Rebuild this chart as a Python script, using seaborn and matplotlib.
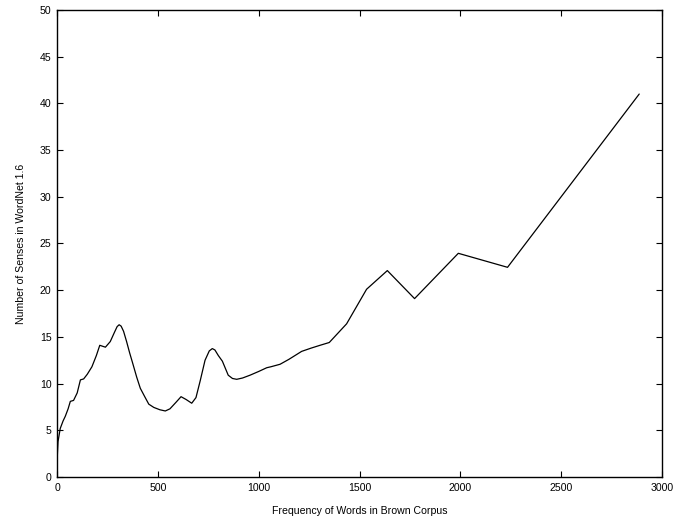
import matplotlib
matplotlib.use("Agg")
import matplotlib.pyplot as plt
import seaborn as sns
import pandas as pd

freq = [0, 2, 5, 16, 30, 41, 55, 66, 82, 100, 116, 132, 150, 173, 195, 212, 240, 264,
        285, 298, 308, 318, 330, 345, 360, 375, 395, 413, 435, 455, 480, 510, 537, 560,
        590, 615, 640, 668, 689, 710, 734, 755, 770, 783, 800, 820, 849, 870, 891, 920,
        957, 1000, 1040, 1060, 1106, 1150, 1213, 1260, 1304, 1350, 1436, 1535, 1638,
        1773, 1990, 2234, 2887]
senses = [0.8, 2.5, 3.8, 5.2, 6.0, 6.5, 7.3, 8.1, 8.2, 9.0, 10.4, 10.5, 11.0, 11.8,
          13.0, 14.1, 13.9, 14.5, 15.5, 16.1, 16.3, 16.15, 15.6, 14.5, 13.3, 12.2, 10.7,
          9.5, 8.6, 7.8, 7.45, 7.2, 7.07, 7.3, 8.0, 8.6, 8.3, 7.9, 8.5, 10.3, 12.5, 13.5,
          13.75, 13.6, 13.0, 12.4, 10.9, 10.55, 10.46, 10.6, 10.9, 11.3, 11.7, 11.8,
          12.07, 12.6, 13.45, 13.8, 14.1, 14.4, 16.4, 20.1, 22.1, 19.1, 23.95, 22.45,
          41.0]
xticks = [0, 500, 1000, 1500, 2000, 2500, 3000]
yticks = list(range(0, 51, 5))

sns.set_theme(style="ticks")
plt.rcParams['font.family'] = ['Liberation Sans', 'DejaVu Sans']
plt.rcParams['text.color'] = 'black'
plt.rcParams['axes.labelcolor'] = 'black'

df = pd.DataFrame({"freq": freq, "senses": senses})

fig = plt.figure(figsize=(6.78, 5.25), dpi=100)
ax = fig.add_axes([0.0841, 0.0914, 0.8923, 0.8896])
sns.lineplot(data=df, x="freq", y="senses", ax=ax, color="black", linewidth=0.9, sort=False)

ax.set_xlim(0, 3000)
ax.set_ylim(0, 50)
ax.set_xticks(xticks)
ax.set_yticks(yticks)
ax.tick_params(direction="in", length=4, width=0.8, top=True, right=True,
               labelsize=7.6, colors="black", pad=4)
for s in ax.spines.values():
    s.set_visible(True)
    s.set_linewidth(1.0)
    s.set_color("black")
ax.set_xlabel("Frequency of Words in Brown Corpus", fontsize=7.6, labelpad=10, color="black")
ax.set_ylabel("Number of Senses in WordNet 1.6", fontsize=7.6, labelpad=10, color="black")

fig.savefig("out.png", dpi=100)
